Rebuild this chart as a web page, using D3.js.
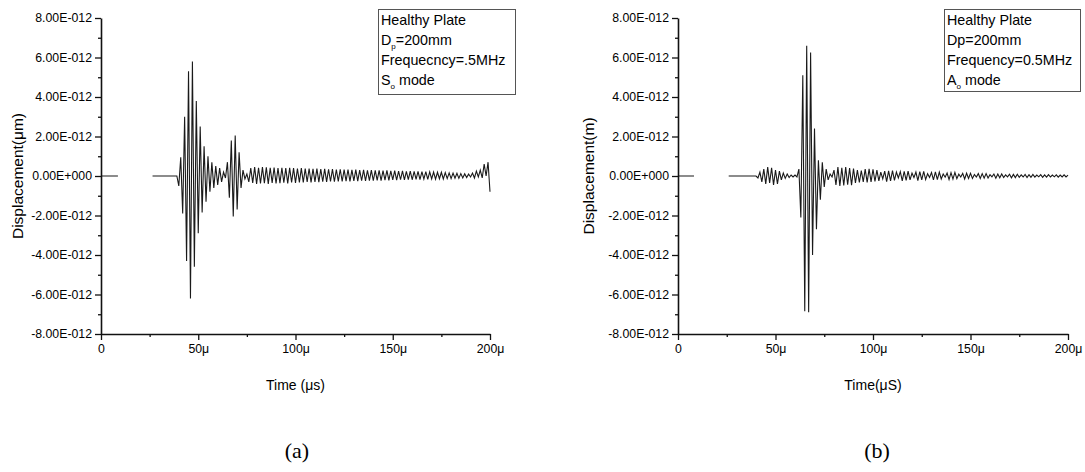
<!DOCTYPE html>
<html><head><meta charset="utf-8">
<script src="https://cdn.jsdelivr.net/npm/d3@7"></script>
<style>
html,body{margin:0;padding:0;background:#fff;}
svg{display:block;}
text{font-family:"Liberation Sans",Arial,sans-serif;fill:#000;}
</style></head>
<body>
<script>
// ---------- data (displacement in units of 1E-12, time in µs) ----------
const xTickValues = [0, 50, 100, 150, 200];
const xTickLabels = ["0", "50\u03bc", "100\u03bc", "150\u03bc", "200\u03bc"];
const xMinorTicks = [25, 75, 125, 175];
const yTickValues = [-8, -6, -4, -2, 0, 2, 4, 6, 8];
const yTickLabels = ["-8.00E-012", "-6.00E-012", "-4.00E-012", "-2.00E-012", "0.00E+000",
                     "2.00E-012", "4.00E-012", "6.00E-012", "8.00E-012"];
const yMinorTicks = [-7, -5, -3, -1, 1, 3, 5, 7];

// flat (zero) stretches before the wave arrives: [start, end] in µs
const flatA = [[0, 8.7], [26.5, 39]];
const flatB = [[0, 8.2], [26, 40]];

// half-cycle peak values, one per µs starting at waveStart
const waveStartA = 40;
const waveA = [
 -0.5, 0.95, -1.9, 3.0, -4.3, 5.3, -6.2, 5.8, -4.6, 3.8,
 -2.9, 2.5, -1.85, 1.5, -1.3, 1.0, -0.8, 0.7, -0.6, 0.5,
 -0.45, 0.4, -0.3, 0.2, -0.1, 0.7, -1.1, 1.8, -2.05, 2.05,
 -1.7, 1.2, -0.6, 0.3, -0.15, 0.1, -0.3, 0.4, -0.35, 0.45,
 -0.4, 0.42, -0.38, 0.45, -0.36, 0.44, -0.4, 0.42, -0.35, 0.43,
 -0.38, 0.4, -0.36, 0.42, -0.34, 0.4, -0.37, 0.41, -0.33, 0.4,
 -0.35, 0.38, -0.32, 0.4, -0.33, 0.37, -0.3, 0.38, -0.32, 0.36,
 -0.3, 0.37, -0.31, 0.35, -0.29, 0.36, -0.3, 0.34, -0.28, 0.35,
 -0.29, 0.33, -0.27, 0.34, -0.28, 0.32, -0.26, 0.33, -0.27, 0.31,
 -0.25, 0.32, -0.26, 0.3, -0.24, 0.31, -0.25, 0.29, -0.23, 0.3,
 -0.24, 0.28, -0.22, 0.29, -0.23, 0.27, -0.21, 0.28, -0.22, 0.26,
 -0.2, 0.27, -0.21, 0.25, -0.19, 0.26, -0.2, 0.24, -0.18, 0.25,
 -0.19, 0.23, -0.17, 0.24, -0.18, 0.22, -0.16, 0.22, -0.17, 0.21,
 -0.15, 0.2, -0.16, 0.19, -0.14, 0.19, -0.15, 0.17, -0.13, 0.16,
 -0.13, 0.15, -0.11, 0.14, -0.12, 0.12, -0.1, 0.11, -0.08, 0.1,
 -0.05, 0.15, -0.1, 0.25, -0.05, 0.3, -0.1, 0.6, 0.0, 0.7,
 -0.8
];
const waveStartB = 40;
const waveB = [
 0, -0.1, 0.2, -0.3, 0.35, -0.4, 0.45, -0.35, 0.42, -0.45,
 0.3, -0.4, 0.25, -0.2, 0.15, -0.12, 0.1, -0.08, 0.05, -0.05,
 0.05, -0.05, 0.35, -2.1, 5.1, -6.85, 6.6, -6.9, 6.25, -4.0,
 2.4, -2.7, 0.8, -1.2, 0.7, -0.55, 0.35, -0.2, 0.1, -0.05,
 0.3, -0.45, 0.45, -0.5, 0.42, -0.48, 0.45, -0.44, 0.4, -0.46,
 0.38, -0.35, 0.3, -0.33, 0.28, -0.3, 0.35, -0.32, 0.36, -0.3,
 0.34, -0.28, 0.3, -0.25, 0.2, -0.15, 0.25, -0.28, 0.26, -0.25,
 0.27, -0.22, 0.2, -0.1, 0.22, -0.25, 0.24, -0.22, 0.25, -0.2,
 0.15, -0.08, 0.2, -0.24, 0.22, -0.2, 0.23, -0.18, 0.12, -0.07,
 0.18, -0.2, 0.21, -0.18, 0.2, -0.15, 0.1, -0.06, 0.15, -0.18,
 0.17, -0.16, 0.18, -0.14, 0.09, -0.05, 0.13, -0.15, 0.14, -0.12,
 0.14, -0.12, 0.08, -0.05, 0.12, -0.13, 0.12, -0.11, 0.12, -0.1,
 0.07, -0.04, 0.1, -0.11, 0.1, -0.09, 0.1, -0.08, 0.06, -0.04,
 0.09, -0.09, 0.08, -0.08, 0.09, -0.07, 0.06, -0.05, 0.08, -0.08,
 0.07, -0.07, 0.08, -0.06, 0.05, -0.04, 0.07, -0.07, 0.06, -0.06,
 0.07, -0.05, 0.05, -0.04, 0.06, -0.06, 0.05, -0.05, 0.06, -0.05,
 0.04
];

const panels = [
  { key: "a", flat: flatA, start: waveStartA, wave: waveA,
    x0: 101, x1: 490, yTitle: "Displacement(\u03bcm)", xTitle: "Time (\u03bcs)", yTitleX: 18,
    caption: "(a)", captionX: 297,
    legend: { x: 378, y: 9, w: 137, h: 85,
      lines: [[["Healthy Plate"]], [["D"], ["p", "sub"], ["=200mm"]], [["Frequecncy=.5MHz"]], [["S"], ["o", "sub"], [" mode"]]] } },
  { key: "b", flat: flatB, start: waveStartB, wave: waveB,
    x0: 678, x1: 1068, yTitle: "Displacement(m)", xTitle: "Time(\u03bcS)", yTitleX: 589,
    caption: "(b)", captionX: 877,
    legend: { x: 944, y: 9, w: 136, h: 82,
      lines: [[["Healthy Plate"]], [["Dp=200mm"]], [["Frequency=0.5MHz"]], [["A"], ["o", "sub"], [" mode"]]] } }
];

const W = 1085, H = 472;
const yTop = 18, yBot = 334;
const svg = d3.select("body").append("svg").attr("width", W).attr("height", H);

panels.forEach(p => {
  const x = d3.scaleLinear().domain([0, 200]).range([p.x0, p.x1]);
  const y = d3.scaleLinear().domain([-8, 8]).range([yBot, yTop]);
  const g = svg.append("g");

  const pts = [];
  p.flat.forEach((seg, i) => {
    if (i > 0) pts.push({ t: null, v: null });
    pts.push({ t: seg[0], v: 0 }, { t: seg[1], v: 0 });
  });
  p.wave.forEach((v, i) => pts.push({ t: p.start + i, v: v }));

  const line = d3.line().defined(d => d.t !== null)
    .x(d => x(d.t)).y(d => y(d.v));
  g.append("path").datum(pts).attr("d", line)
    .attr("fill", "none").attr("stroke", "#1a1a1a").attr("stroke-width", 1.1)
    .attr("stroke-linejoin", "miter");

  const yAxis = d3.axisLeft(y).tickValues(yTickValues)
    .tickFormat((d, i) => yTickLabels[i]).tickSize(6).tickSizeOuter(0).tickPadding(3);
  g.append("g").attr("transform", `translate(${p.x0},0)`).call(yAxis);
  const yMinor = d3.axisLeft(y).tickValues(yMinorTicks).tickFormat("").tickSize(3).tickSizeOuter(0);
  g.append("g").attr("transform", `translate(${p.x0},0)`).call(yMinor).select(".domain").remove();

  const xAxis = d3.axisBottom(x).tickValues(xTickValues)
    .tickFormat((d, i) => xTickLabels[i]).tickSize(6).tickSizeOuter(0).tickPadding(4);
  g.append("g").attr("transform", `translate(0,${yBot})`).call(xAxis);
  const xMinor = d3.axisBottom(x).tickValues(xMinorTicks).tickFormat("").tickSize(3).tickSizeOuter(0);
  g.append("g").attr("transform", `translate(0,${yBot})`).call(xMinor).select(".domain").remove();

  g.selectAll(".domain").attr("stroke", "#111").attr("stroke-width", 1.6);
  g.selectAll(".tick line").attr("stroke", "#111").attr("stroke-width", 1.3);
  g.selectAll(".tick text").attr("font-size", 12.3).attr("fill", "#111")
    .style("font-family", "'Liberation Sans', Arial, sans-serif");

  g.append("text").attr("transform", `translate(${p.yTitleX + 5},${(yTop + yBot) / 2}) rotate(-90)`)
    .attr("text-anchor", "middle").attr("font-size", 15.5).text(p.yTitle);
  g.append("text").attr("x", (p.x0 + p.x1) / 2).attr("y", 390)
    .attr("text-anchor", "middle").attr("font-size", 14).text(p.xTitle);

  const L = p.legend;
  g.append("rect").attr("x", L.x + 0.5).attr("y", L.y + 0.5).attr("width", L.w).attr("height", L.h)
    .attr("fill", "#fff").attr("stroke", "#555").attr("stroke-width", 1);
  L.lines.forEach((parts, i) => {
    const t = g.append("text").attr("x", L.x + 3).attr("y", L.y + 15.5 + i * 20.2).attr("font-size", 14.3);
    parts.forEach(part => {
      if (part[1] === "sub") {
        t.append("tspan").attr("font-size", 8).attr("dy", 4).text(part[0]);
      } else {
        const ts = t.append("tspan").text(part[0]);
        if (t.selectAll("tspan").size() > 1) ts.attr("dy", -4);
      }
    });
  });

  svg.append("text").attr("x", p.captionX).attr("y", 458).attr("text-anchor", "middle")
    .style("font-family", "'Liberation Serif','Times New Roman',serif")
    .attr("font-size", 22).text(p.caption);
});
</script>
</body></html>
